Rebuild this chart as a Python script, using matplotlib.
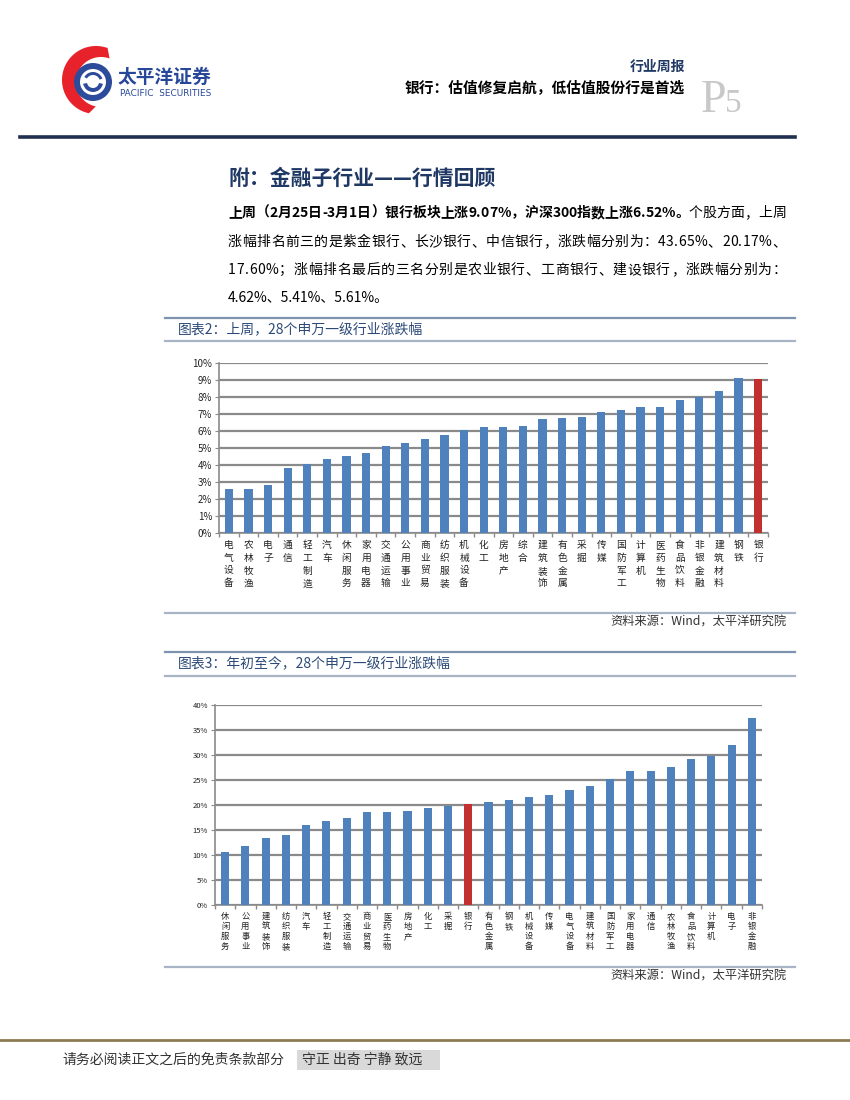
import matplotlib
matplotlib.use('Agg')
import matplotlib.pyplot as plt
from matplotlib.lines import Line2D
from matplotlib.patches import Polygon, Wedge, Rectangle
from matplotlib.ticker import FuncFormatter
import numpy as np

plt.rcParams['font.family'] = ['Noto Sans CJK SC', 'DejaVu Sans']

# ---------------- data ----------------
week_labels = ['电气设备', '农林牧渔', '电子', '通信', '轻工制造', '汽车', '休闲服务',
               '家用电器', '交通运输', '公用事业', '商业贸易', '纺织服装', '机械设备',
               '化工', '房地产', '综合', '建筑装饰', '有色金属', '采掘', '传媒',
               '国防军工', '计算机', '医药生物', '食品饮料', '非银金融', '建筑材料',
               '钢铁', '银行']
week_values = [2.60, 2.60, 2.83, 3.85, 4.06, 4.36, 4.53, 4.71, 5.12, 5.29, 5.53, 5.76,
               6.05, 6.23, 6.23, 6.29, 6.70, 6.76, 6.82, 7.11, 7.23, 7.40, 7.40, 7.81,
               7.99, 8.34, 9.10, 9.07]

ytd_labels = ['休闲服务', '公用事业', '建筑装饰', '纺织服装', '汽车', '轻工制造', '交通运输',
              '商业贸易', '医药生物', '房地产', '化工', '采掘', '银行', '有色金属',
              '钢铁', '机械设备', '传媒', '电气设备', '建筑材料', '国防军工', '家用电器',
              '通信', '农林牧渔', '食品饮料', '计算机', '电子', '非银金融']
ytd_values = [10.6, 11.8, 13.4, 14.0, 16.0, 16.8, 17.4, 18.6, 18.6, 18.8, 19.4, 19.9,
              20.2, 20.6, 21.0, 21.6, 22.0, 23.0, 23.8, 25.2, 26.8, 26.8, 27.6, 29.2,
              29.8, 32.0, 37.4]

highlight = '银行'
week_yticks = [0, 1, 2, 3, 4, 5, 6, 7, 8, 9, 10]
ytd_yticks = [0, 5, 10, 15, 20, 25, 30, 35, 40]

# ---------------- helpers ----------------
W, H = 850, 1100
fig = plt.figure(figsize=(8.5, 11), dpi=100)
fig.patch.set_facecolor('white')
renderer = fig.canvas.get_renderer()

BLUE = '#4F81BD'
RED = '#C0312F'
NAVY = '#1F3864'
GRID = '#8A8A8A'


def fx(x):
    return x / W


def fy(y):
    return 1 - y / H


def txt(x, y, s, **kw):
    return fig.text(fx(x), fy(y), s, **kw)


def hline(x0, x1, y, color, lw):
    fig.add_artist(Line2D([fx(x0), fx(x1)], [fy(y), fy(y)], color=color, lw=lw,
                          transform=fig.transFigure))


def axes_px(x0, y0, x1, y1):
    return fig.add_axes([fx(x0), fy(y1), (x1 - x0) / W, (y1 - y0) / H])


def justified(x0, x1, y, segments):
    """Draw a line of text (list of (string, style) segments) spread evenly between x0 and x1."""
    chars = []
    for s, kw in segments:
        for ch in s:
            t = fig.text(0, 0, ch, **kw)
            w = t.get_window_extent(renderer).width
            t.remove()
            chars.append((ch, kw, w))
    total = sum(c[2] for c in chars)
    gap = (x1 - x0 - total) / max(len(chars) - 1, 1)
    x = x0
    for ch, kw, w in chars:
        fig.text(fx(x), fy(y), ch, ha='left', va='center', **kw)
        x += w + gap


# ---------------- header / logo ----------------
lg = axes_px(55, 38, 120, 118)
lg.set_xlim(55, 120)
lg.set_ylim(-118, -38)
lg.axis('off')
a_out = np.radians(np.linspace(70, 258, 80))
a_in = np.radians(np.linspace(258, 70, 80))
outer = np.c_[96 + 34 * np.cos(a_out), -80 + 34 * np.sin(a_out)]
inner = np.c_[101 + 25 * np.cos(a_in), -82 + 25 * np.sin(a_in)]
lg.add_patch(Polygon(np.vstack([outer, inner]), closed=True, color='#E8222B', lw=0))
lg.add_patch(Wedge((93, -82), 19, 0, 360, width=6, color='#2D4B9B', lw=0))
lg.add_patch(Wedge((93, -82), 10, 190, 350, width=4, color='#2D4B9B', lw=0))
lg.add_patch(Wedge((93, -82), 10, 20, 150, width=3, color='#2D4B9B', lw=0))

txt(118, 77, '太平洋证券', fontsize=13.5, fontweight='bold', color='#27479A', va='center', ha='left')
txt(120, 93, 'PACIFIC  SECURITIES', fontsize=6.4, color='#27479A', va='center',
    ha='left', family='DejaVu Sans')

txt(685, 67, '行业周报', fontsize=10, fontweight='bold', color=NAVY, ha='right', va='center')
txt(685, 87, '银行：估值修复启航，低估值股份行是首选', fontsize=10.6, fontweight='bold',
    color='black', ha='right', va='center')
txt(701, 112, 'P', fontsize=33, color='#C8C8C8', family='Liberation Serif', ha='left', va='baseline')
txt(725, 112, '5', fontsize=24, color='#C8C8C8', family='Liberation Serif', ha='left', va='baseline')

hline(20, 795, 137, '#1F3050', 2.6)

# ---------------- text section ----------------
txt(228, 178, '附：金融子行业——行情回顾', fontsize=15, fontweight='bold', color=NAVY,
    ha='left', va='center')
P_BOLD = dict(fontsize=10, fontweight='bold', color='black')
P_NORM = dict(fontsize=10, color='black')
justified(228, 786, 213, [('上周（2月25日-3月1日）银行板块上涨9.07%，沪深300指数上涨6.52%。', P_BOLD),
                          ('个股方面，上周', P_NORM)])
justified(228, 786, 242, [('涨幅排名前三的是紫金银行、长沙银行、中信银行，涨跌幅分别为：43.65%、20.17%、',
                           P_NORM)])
justified(228, 786, 270, [('17.60%；涨幅排名最后的三名分别是农业银行、工商银行、建设银行，涨跌幅分别为：',
                           P_NORM)])
txt(228, 298, '4.62%、5.41%、5.61%。', fontsize=10, color='black', ha='left', va='center')


# ---------------- charts ----------------
def bar_chart(ax, labels, values, yticks, lab_fs, lab_ls, tick_fs, width):
    x = np.arange(len(labels))
    colors = [RED if l == highlight else BLUE for l in labels]
    ax.bar(x, values, width=width, color=colors, zorder=3)
    ax.set_xlim(-0.5, len(labels) - 0.5)
    ax.set_ylim(yticks[0], yticks[-1])
    ax.set_yticks(yticks)
    ax.yaxis.set_major_formatter(FuncFormatter(lambda v, p: f'{v:.0f}%'))
    ax.grid(axis='y', color=GRID, lw=1.6, zorder=0)
    ax.set_axisbelow(True)
    ax.set_xticks(x)
    ax.set_xticklabels(['\n'.join(l) for l in labels], fontsize=lab_fs,
                       linespacing=lab_ls, va='top', color='#222222')
    ax.tick_params(axis='x', which='major', length=0, pad=5)
    ax.set_xticks(np.arange(-0.5, len(labels)), minor=True)
    ax.tick_params(axis='x', which='minor', length=3, color=GRID, width=1)
    ax.tick_params(axis='y', length=3, color=GRID, labelsize=tick_fs, labelcolor='#222222', pad=2)
    for s in ['top', 'right']:
        ax.spines[s].set_visible(False)
    for s in ['left', 'bottom']:
        ax.spines[s].set_color(GRID)
        ax.spines[s].set_linewidth(1.2)


# chart 1
hline(165, 795, 318, '#7F93AE', 1.6)
txt(178, 329, '图表2：上周，28个申万一级行业涨跌幅', fontsize=10, color='#2C4A78', ha='left', va='center')
hline(165, 795, 341, '#A8B4C4', 1.6)

ax1 = axes_px(219, 363, 768, 533)
bar_chart(ax1, week_labels, week_values, week_yticks, 7, 1.35, 7, 0.42)

hline(165, 795, 613, '#A8B4C4', 1.6)
txt(787, 622, '资料来源：Wind，太平洋研究院', fontsize=8.8, style='italic', color='#333333',
    ha='right', va='center')

# chart 2
hline(165, 795, 652, '#7F93AE', 1.6)
txt(178, 663, '图表3：年初至今，28个申万一级行业涨跌幅', fontsize=10, color='#2C4A78', ha='left', va='center')
hline(165, 795, 676, '#A8B4C4', 1.6)

ax2 = axes_px(215, 705, 762, 905)
bar_chart(ax2, ytd_labels, ytd_values, ytd_yticks, 6, 1.15, 5.5, 0.4)

hline(165, 795, 967, '#A8B4C4', 1.6)
txt(787, 976, '资料来源：Wind，太平洋研究院', fontsize=8.8, style='italic', color='#333333',
    ha='right', va='center')

# ---------------- footer ----------------
hline(0, 850, 1040, '#8C7B52', 2.0)
txt(62, 1060, '请务必阅读正文之后的免责条款部分', fontsize=10, color='#333333', ha='left', va='center')
fig.add_artist(Rectangle((fx(297), fy(1070)), 143 / W, 20 / H, transform=fig.transFigure,
                         color='#D9D9D9', lw=0))
txt(302, 1060, '守正 出奇 宁静 致远', fontsize=10, color='#333333', ha='left', va='center')

fig.savefig('out.png', dpi=100)
